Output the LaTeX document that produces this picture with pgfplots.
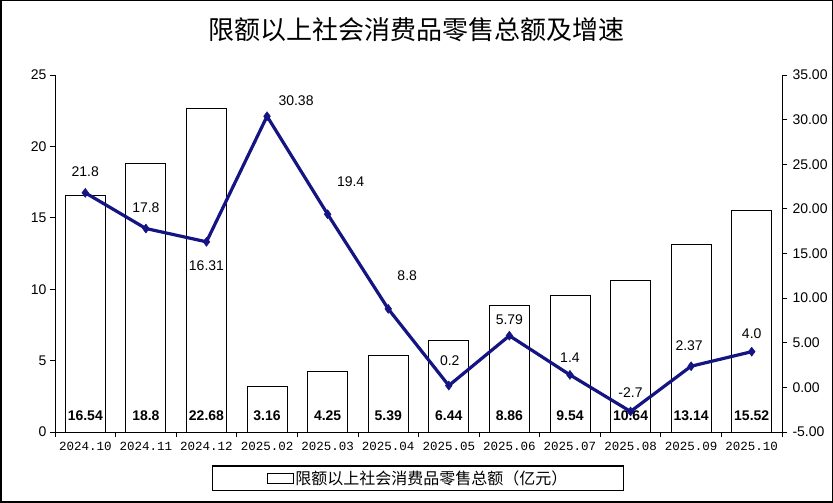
\documentclass[border=0pt]{standalone}
\usepackage{fontspec}
\setmainfont{Liberation Sans}
\setmonofont{Liberation Mono}
\newfontfamily\cjk{Noto Sans CJK SC}
\usepackage{pgfplots}
\pgfplotsset{compat=1.18}
\usepackage{pgfplotstable}
\definecolor{navyline}{RGB}{20,20,130}

% sales (left axis) and growth (right axis)
\pgfplotstableread{
x  y
0  16.54
1  18.8
2  22.68
3  3.16
4  4.25
5  5.39
6  6.44
7  8.86
8  9.54
9  10.64
10 13.14
11 15.52
}\sales

\pgfplotstableread{
x  y      lab    dx  dy
0  21.8   21.8   0   21
1  17.8   17.8   0   21
2  16.31  16.31  0   -24
3  30.38  30.38  29  16
4  19.4   19.4   23  33
5  8.8    8.8    19  33
6  0.2    0.2    1   25
7  5.79   5.79   0   16
8  1.4    1.4    0   17
9  -2.7   -2.7   0   19
10 2.37   2.37   -2  21
11 4.0    4.0    0   18
}\growth

\begin{document}
\begin{tikzpicture}
\useasboundingbox (0,0) rectangle (833pt,503pt);
\draw[line width=1.5pt] (0.75pt,0.75pt) rectangle (832.25pt,502.25pt);
\node[font=\cjk\fontsize{26}{30}\selectfont] at (416pt,473pt) {限额以上社会消费品零售总额及增速};

\begin{axis}[
  at={(55pt,71pt)}, anchor=south west,
  scale only axis,
  width=727pt, height=357pt,
  xmin=-0.5, xmax=11.5,
  ymin=0, ymax=25,
  axis x line=bottom, axis y line=left,
  axis line style={-, black, line width=0.8pt},
  xtick={-0.5,0.5,...,11.5},
  x tick label as interval,
  xticklabels={2024.10,2024.11,2024.12,2025.02,2025.03,2025.04,2025.05,2025.06,2025.07,2025.08,2025.09,2025.10},
  x tick label style={font=\ttfamily\fontsize{12.5}{14}\selectfont, yshift=-2pt},
  ytick={0,5,...,25},
  y tick label style={font=\fontsize{14}{16}\selectfont},
  /pgf/number format/assume math mode=true,
  tick align=outside,
  major tick length=5pt,
  tick style={black, line width=0.8pt},
  legend style={at={(0.4993,-0.129)}, anchor=center, draw=black, line width=1.2pt,
    inner xsep=54pt, inner ysep=2.5pt,
    font=\cjk\fontsize{16}{18}\selectfont},
  legend image code/.code={\draw[black, fill=white, line width=0.8pt] (0pt,-5pt) rectangle (26pt,5pt);},
  ]
\addplot[ybar, bar width=0.66, draw=black, fill=white, line width=0.8pt,
  point meta=explicit symbolic,
  visualization depends on={\thisrow{y} \as \h},
  nodes near coords,
  nodes near coords style={font=\bfseries\fontsize{14}{16}\selectfont, anchor=center,
    yshift=16pt-\h*14.28pt},
  ] table[x=x, y=y, meta=y] {\sales};
\addlegendentry{限额以上社会消费品零售总额（亿元）}
\end{axis}

\begin{axis}[
  at={(55pt,71pt)}, anchor=south west,
  scale only axis,
  width=727pt, height=357pt,
  xmin=-0.5, xmax=11.5,
  ymin=-5, ymax=35,
  axis x line=none, axis y line=right,
  axis line style={-, black, line width=0.8pt},
  ytick={-5,0,...,35},
  y tick label style={font=\fontsize{14}{16}\selectfont, anchor=west, xshift=2pt},
  yticklabel={\pgfmathprintnumber[fixed, fixed zerofill, precision=2]{\tick}},
  /pgf/number format/assume math mode=true,
  tick align=outside,
  major tick length=5pt,
  tick style={black, line width=0.8pt},
  ]
\addplot[navyline, line width=3.2pt, mark=diamond*, mark size=4.5pt,
  mark options={solid, fill=navyline, line width=0.5pt},
  point meta=explicit symbolic,
  visualization depends on={\thisrow{dx} \as \dx},
  visualization depends on={\thisrow{dy} \as \dy},
  nodes near coords,
  nodes near coords style={text=black, font=\fontsize{14}{16}\selectfont, anchor=center,
    xshift=\dx pt, yshift=\dy pt},
  ] table[x=x, y=y, meta=lab] {\growth};
\end{axis}
\end{tikzpicture}
\end{document}
